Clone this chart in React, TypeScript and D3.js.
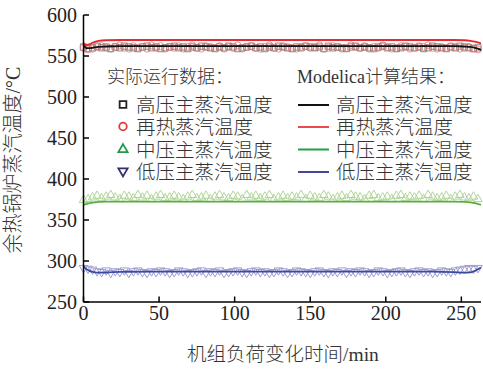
import React from "react";
import * as d3 from "d3";

const sampleTimes = [0,3,6,9,12,15,18,21,24,27,30,33,36,39,42,45,48,51,54,57,60,63,66,69,72,75,78,81,84,87,90,93,96,99,102,105,108,111,114,117,120,123,126,129,132,135,138,141,144,147,150,153,156,159,162,165,168,171,174,177,180,183,186,189,192,195,198,201,204,207,210,213,216,219,222,225,228,231,234,237,240,243,246,249,252,255,258,261];

const hpMeasured = [561,559,560,562,560,561,559,561,560,562,
561,560,559,561,562,560,561,559,560,561,
562,560,561,559,561,560,562,561,560,559,
561,560,562,561,559,560,561,562,560,561,
559,561,560,562,561,560,559,561,560,562,
561,560,561,559,562,560,561,560,559,561,
562,560,561,560,559,561,562,560,561,559,
560,562,561,560,561,559,560,562,561,560,
559,561,560,562,561,560,559,560];

const rhMeasured = [560,558,559,561,562,560,559,561,563,560,
559,562,560,561,559,563,560,562,559,561,
560,562,559,561,563,560,559,562,561,560,
562,559,561,560,563,559,561,562,560,559,
561,563,560,559,562,561,560,559,561,562,
560,561,563,559,560,562,561,559,560,563,
561,560,562,559,561,560,563,561,559,560,
562,561,559,560,562,561,563,560,559,561,
560,562,561,559,560,561,559,558];

const ipMeasured = [375,376,378,380,377,379,381,378,376,380,
379,377,381,378,380,376,379,381,377,378,
380,378,376,379,381,377,378,380,376,379,
381,378,377,380,379,376,381,378,380,377,
379,381,376,378,380,377,379,378,381,376,
380,378,377,381,379,376,378,380,377,381,
379,378,376,380,381,377,378,379,376,380,
381,377,379,378,380,376,381,379,377,378,
380,376,379,381,378,377,379,376];

const lpMeasured = [291,290,289,287,286,288,285,287,286,288,
285,287,288,286,285,287,286,288,287,285,
286,288,287,285,286,287,288,285,287,286,
288,285,286,287,288,286,285,287,288,286,
287,285,286,288,287,285,286,288,287,286,
285,287,288,286,285,287,286,288,285,287,
286,288,287,285,286,288,287,285,286,287,
288,286,285,287,288,286,287,285,286,288,
287,286,288,289,290,291,290,291];

const modelTimes = [0,1,2,4,7,10,15,25,50,100,150,200,230,245,252,256,259,261,263];
const hpModel = [565,561,559.5,559.5,560.5,561.2,561.6,562,562,562,562,562,562,562,561.6,561,560,559,557.5];
const rhModel = [566,564,563.5,564.5,567,568.5,569.2,569.5,569.5,569.5,569.5,569.5,569.5,569.5,569.2,568.5,567.5,566.5,565.5];
const ipModel = [368.5,369,369.5,370.5,371.5,372.2,372.4,372.5,372.5,372.5,372.5,372.5,372.5,372.5,372.2,371.5,370.5,369.5,368.5];
const lpModel = [293.5,291.5,290,288,286.5,285.8,286,286.8,287,287,287,287,287,286.5,285.8,286.2,288,290,292];

const yTicks = [250,300,350,400,450,500,550,600];
const xTicks = [0,50,100,150,200,250];

const legendLeftTitle = "实际运行数据：";
const legendRightTitle = "Modelica计算结果：";
const seriesNames = ["高压主蒸汽温度","再热蒸汽温度","中压主蒸汽温度","低压主蒸汽温度"];
const xTitle = "机组负荷变化时间/min";
const yTitle = "余热锅炉蒸汽温度/°C";

const FONT = "'Liberation Serif', 'Noto Sans CJK SC', serif";

export default function App() {
  const x = d3.scaleLinear().domain([0, 263]).range([83.5, 481]);
  const y = d3.scaleLinear().domain([250, 600]).range([302, 15]);
  const line = d3.line<[number, number]>().x(d => x(d[0])).y(d => y(d[1])).curve(d3.curveMonotoneX);
  const mk = (vals: number[]) => modelTimes.map((t, i) => [t, vals[i]] as [number, number]);

  const markerColors = ["#666", "#e27474", "#98ca7c", "#8280c4"];
  const lineColors = ["#111", "#e8282c", "#5aae3e", "#3c4a9c"];
  const legMarkerColors = ["#222", "#e03a3a", "#1e9a4a", "#33306e"];
  const legLineColors = ["#111", "#ec4a4a", "#22a046", "#45479a"];

  const square = (cx: number, cy: number, s: number) => `M${cx - s},${cy - s}h${2 * s}v${2 * s}h${-2 * s}Z`;
  const triUp = (cx: number, cy: number, s: number) => `M${cx},${cy - s * 1.15}L${cx + s * 1.1},${cy + s * 0.75}L${cx - s * 1.1},${cy + s * 0.75}Z`;
  const triDown = (cx: number, cy: number, s: number) => `M${cx},${cy + s * 1.15}L${cx + s * 1.1},${cy - s * 0.75}L${cx - s * 1.1},${cy - s * 0.75}Z`;

  const measured = [hpMeasured, rhMeasured, ipMeasured, lpMeasured];
  const models = [hpModel, rhModel, ipModel, lpModel];

  const marker = (k: number, cx: number, cy: number, s: number, color: string, sw: number, key?: any) => {
    if (k === 0) return <path key={key} d={square(cx, cy, s * 0.8)} fill="none" stroke={color} strokeWidth={sw} />;
    if (k === 1) return <circle key={key} cx={cx} cy={cy} r={s * 0.9} fill="none" stroke={color} strokeWidth={sw} />;
    if (k === 2) return <path key={key} d={triUp(cx, cy, s)} fill="none" stroke={color} strokeWidth={sw} />;
    return <path key={key} d={triDown(cx, cy, s)} fill="none" stroke={color} strokeWidth={sw} />;
  };

  const legendRows = [105, 127, 149.5, 172];

  return (
    <svg width={483} height={370} style={{ position: "absolute", left: 0, top: 0, background: "#fff" }} fontFamily={FONT}>
      <rect width={483} height={370} fill="#fff" />
      {measured.map((vals, k) => (
        <g key={"m" + k} opacity={0.85}>
          {vals.map((v, i) => marker(k, x(sampleTimes[i]), y(v), 3.9, markerColors[k], 0.9, i))}
        </g>
      ))}
      {models.map((vals, k) => (
        <path key={"l" + k} d={line(mk(vals)) || ""} fill="none" stroke={lineColors[k]} strokeWidth={1.8} />
      ))}
      <line x1={83.5} y1={y(600)} x2={83.5} y2={302} stroke="#000" strokeWidth={1.5} />
      <line x1={83.5} y1={302} x2={481} y2={302} stroke="#000" strokeWidth={1.5} />
      {yTicks.map(t => (
        <g key={"yt" + t}>
          <line x1={83.5} x2={89} y1={y(t)} y2={y(t)} stroke="#000" strokeWidth={1.5} />
          <text x={77} y={y(t) + 6.5} textAnchor="end" fontSize={20} fill="#222">{t}</text>
        </g>
      ))}
      {xTicks.map(t => (
        <g key={"xt" + t}>
          <line x1={x(t)} x2={x(t)} y1={302} y2={296.5} stroke="#000" strokeWidth={1.5} />
          <text x={x(t)} y={320} textAnchor="middle" fontSize={20} fill="#222">{t}</text>
        </g>
      ))}
      <g fontWeight={300}>
        <text x={283} y={361} textAnchor="middle" fontSize={19.5} fill="#333">{xTitle}</text>
        <text transform="translate(20,160) rotate(-90)" textAnchor="middle" fontSize={20} fill="#333">{yTitle}</text>
        <text x={107} y={83} fontSize={18} fill="#333">{legendLeftTitle}</text>
        <text x={297} y={83} fontSize={18} fill="#333">{legendRightTitle}</text>
        {seriesNames.map((name, k) => (
          <g key={"lg" + k}>
            {marker(k, 123, legendRows[k] - 0.5, 4.2, legMarkerColors[k], 1.8)}
            <text x={136} y={legendRows[k] + 7} fontSize={19.5} fill="#333">{name}</text>
            <line x1={298} x2={329} y1={legendRows[k]} y2={legendRows[k]} stroke={legLineColors[k]} strokeWidth={2} />
            <text x={336} y={legendRows[k] + 7} fontSize={19.5} fill="#333">{name}</text>
          </g>
        ))}
      </g>
    </svg>
  );
}
